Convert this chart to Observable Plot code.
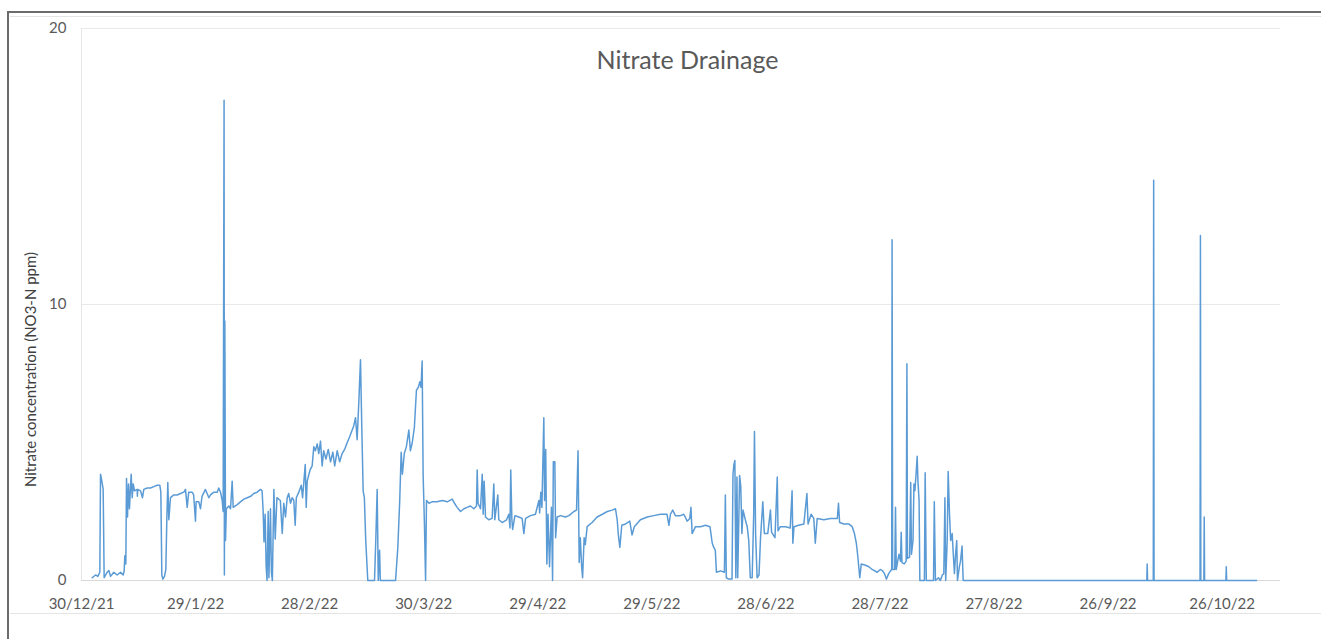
<!DOCTYPE html>
<html>
<head>
<meta charset="utf-8">
<script src="https://cdn.jsdelivr.net/npm/d3@7"></script>
<script src="https://cdn.jsdelivr.net/npm/@observablehq/plot@0.6"></script>
<style>
html, body { margin: 0; padding: 0; background: #fff; }
#wrap { position: relative; width: 1321px; height: 639px; overflow: hidden; font-family: Lato, "Open Sans", sans-serif; }
#frame { position: absolute; left: 7px; top: 11px; width: 1330px; height: 640px; border-top: 2px solid #6b6b6b; border-left: 2px solid #6b6b6b; box-sizing: border-box; }
#inner { position: absolute; left: 10px; top: 16px; width: 1320px; height: 598px; border-top: 1px solid #e4e4e4; border-bottom: 1px solid #e4e4e4; box-sizing: border-box; }
#chart { position: absolute; left: 0; top: 0; }
</style>
</head>
<body>
<div id="wrap">
  <div id="frame"></div>
  <div id="inner"></div>
  <div id="chart"></div>
</div>
<script>
// Readings: [days since 30/12/21, nitrate NO3-N ppm]
const janReadings = [[2.81,0.1],[3.68,0.2],[4.29,0.15],[4.82,0.3],[5.0,3.85],[5.35,3.6],[5.7,3.3],[5.96,0.1],[6.75,0.3],[7.19,0.36],[7.63,0.15],[8.5,0.3],[9.38,0.2],[10.26,0.3],[10.96,0.2],[11.22,0.35],[11.4,0.9],[11.66,0.6],[11.84,3.7],[12.1,2.3],[12.36,3.5],[12.62,2.6],[12.89,3.4],[13.07,3.85],[13.33,3.0],[13.6,3.5],[13.94,3.25],[14.64,3.3],[14.7,3.05],[14.8,3.3],[15.52,3.25],[16.04,3.0],[16.39,3.3],[17.27,3.35],[18.15,3.35],[19.03,3.4],[19.9,3.45],[20.6,3.45],[20.87,3.2],[21.13,0.2],[21.4,0.05],[21.83,0.15],[22.18,0.4],[22.44,2.2],[22.7,3.55],[22.97,2.2],[23.4,3.0],[24.28,3.1],[25.16,3.1],[26.04,3.15],[26.92,3.2],[27.35,3.3],[27.8,2.65],[28.2,3.2],[29.1,3.2],[29.5,3.1],[29.98,2.15],[30.15,2.85],[30.86,2.85],[31.3,2.6],[31.7,3.05],[32.6,3.3],[33.5,3.0],[33.93,3.1],[34.8,3.2],[35.7,3.2],[36.1,3.35],[36.56,3.2],[37.0,2.9],[37.26,2.5],[37.5,17.4],[37.58,0.2],[37.7,9.4],[37.88,1.45],[38.1,2.6],[38.75,2.7],[39.2,2.6],[39.63,3.6],[39.9,2.65],[40.95,2.75],[41.8,2.85],[42.7,2.95],[43.58,3.0],[44.5,3.05],[45.3,3.15],[46.2,3.2],[47.08,3.3],[47.5,3.25],[47.78,2.5],[48.0,1.4],[48.3,2.4],[48.57,0.5],[48.8,0.0],[49.1,2.5],[49.3,0.1],[49.7,2.6],[49.95,0.3],[50.2,0.0],[50.6,3.3],[50.95,1.5],[51.4,3.0],[52.3,2.9]];
const marReadings = [[52.8,1.7],[53.2,2.8],[53.65,2.3],[54.1,3.0],[54.5,3.15],[54.97,2.8],[55.4,3.0],[55.84,2.9],[56.2,2.0],[56.5,3.0],[57.16,3.2],[57.8,3.45],[58.15,3.0],[58.5,3.6],[58.85,4.2],[59.1,2.65],[59.36,3.6],[60.1,4.0],[60.67,4.15],[61.1,4.85],[61.5,4.7],[62.0,4.95],[62.4,4.6],[62.86,5.05],[63.3,4.15],[63.7,4.7],[64.3,4.4],[64.9,4.75],[65.5,4.3],[66.1,4.65],[66.6,4.15],[67.25,4.7],[67.9,4.3],[68.56,4.6],[69.2,4.75],[69.9,5.0],[70.5,5.2],[71.2,5.45],[71.6,5.6],[72.07,5.9],[72.5,5.1],[72.95,6.5],[73.38,8.0],[73.7,5.7],[74.08,3.25],[74.4,3.0],[74.76,1.45],[75.3,0],[77.07,0],[77.4,1.45],[77.77,3.3],[78.05,0],[78.4,1.1],[78.6,0],[82.6,0],[83.2,1.2],[83.7,2.9],[84.08,4.65],[84.4,3.85],[84.9,4.6],[85.45,4.85],[86.1,5.45],[86.5,4.7],[87.0,5.0],[87.55,5.55],[88.1,6.9],[88.6,7.0],[89.0,7.2],[89.3,7.0],[89.6,7.95],[89.85,3.85],[90.2,2.05],[90.5,0],[90.74,2.9],[91.4,2.8],[92.2,2.85],[93.5,2.85],[94.9,2.9],[96.2,2.85],[97.5,2.95],[98.1,2.8],[98.8,2.65],[99.7,2.5],[100.6,2.6],[101.4,2.65],[102.3,2.7],[103.2,2.6],[103.9,2.7],[104.07,4.0],[104.3,2.8]];
const mayReadings = [[104.95,2.6],[105.4,3.85],[105.65,2.4],[105.9,3.6],[106.26,2.3],[107.1,2.2],[108.0,2.25],[108.45,3.5],[108.7,2.2],[109.5,3.1],[109.75,2.2],[110.65,2.1],[111.8,2.2],[112.4,2.4],[112.7,1.9],[112.9,4.0],[113.2,2.2],[113.4,1.85],[114.0,2.35],[115.0,2.3],[115.9,2.25],[116.35,1.7],[116.8,2.25],[118.1,2.35],[119.4,2.4],[120.3,2.9],[120.5,2.45],[120.8,3.2],[121.1,2.65],[121.6,5.9],[121.8,2.9],[122.1,4.75],[122.4,0.6],[122.7,2.4],[123.1,0.5],[123.6,2.65],[123.9,0],[124.1,4.3],[124.5,4.3],[124.7,1.55],[125.1,2.3],[126.0,2.35],[127.3,2.3],[128.2,2.35],[129.5,2.5],[130.2,2.55],[130.6,4.7],[130.9,0.65],[131.2,1.55],[131.55,0.5],[131.8,0.1],[132.2,1.55],[132.5,1.3],[133.0,1.95],[134.3,2.1],[135.6,2.3],[137.0,2.4],[138.3,2.5],[139.6,2.55],[140.45,2.6],[140.9,2.2],[141.2,1.65],[141.6,1.2],[142.1,2.0],[143.1,2.05],[144.2,2.15],[144.8,1.65],[145.4,1.95],[147.0,2.2],[148.8,2.3],[150.5,2.35],[152.3,2.4],[154.0,2.4],[154.5,2.0],[154.9,2.4],[155.5,2.55],[156.2,2.35]];
const julReadings = [[157.5,2.35],[158.4,2.4],[158.8,2.3],[159.3,2.15],[160.0,2.25],[160.3,2.65],[160.6,1.7],[161.5,1.95],[162.8,1.95],[164.1,2.0],[165.3,1.95],[165.9,1.35],[166.3,1.2],[166.7,1.1],[167.0,0.3],[168.1,0.35],[169.1,0.3],[169.35,3.1],[169.6,0.1],[170.2,0.05],[171.1,0.05],[171.35,3.85],[171.6,4.2],[171.85,4.35],[172.1,0.1],[172.4,3.75],[172.6,0.1],[173.1,3.8],[173.4,3.4],[173.7,1.7],[174.0,2.55],[174.6,2.2],[175.1,1.95],[175.5,1.45],[175.9,0.1],[176.4,0.1],[176.8,2.4],[177.0,5.4],[177.3,1.7],[177.7,0.1],[178.2,0.2],[178.6,1.55],[179.2,2.85],[179.6,1.7],[180.5,1.7],[181.2,2.55],[181.5,1.75],[182.4,1.55],[183.0,3.75],[183.2,1.8],[183.8,1.95],[185.2,1.95],[186.4,1.9],[186.9,3.25],[187.1,1.35],[187.4,1.95],[188.6,2.0],[190.0,2.05],[190.8,3.15],[191.1,2.05],[191.9,2.4],[192.6,2.25],[193.0,1.35],[193.5,2.25],[195.25,2.2],[197.0,2.25],[198.8,2.25],[199.1,2.8],[199.4,2.1],[200.5,2.05],[201.8,2.05],[202.7,1.95],[203.3,1.7],[203.8,1.35],[204.2,0.85],[204.7,0.1],[205.1,0.6],[206.2,0.55],[207.1,0.5],[207.95,0.4],[209.3,0.3],[210.1,0.4]];
const augReadings = [[210.7,0.35],[211.2,0.25],[211.7,0.05],[212.3,0.25],[212.8,0.35],[213.1,0.4],[213.2,12.35],[213.35,0.4],[213.9,0.4],[214.1,2.65],[214.3,0.4],[215.0,0.95],[215.4,0.7],[215.6,1.75],[215.8,0.65],[216.4,0.6],[216.9,0.7],[217.1,7.85],[217.25,0.8],[217.8,0.85],[218.1,3.55],[218.3,0.95],[218.7,1.45],[218.95,3.5],[219.2,3.25],[219.5,3.85],[219.8,4.5],[220.0,3.6],[220.3,2.9],[220.5,0],[221.7,0],[221.9,3.9],[222.2,0],[224.1,0],[224.3,2.85],[224.6,0],[225.4,0.1],[225.9,0],[226.4,0.2],[226.8,0.25],[227.1,3.0],[227.3,0],[227.7,1.45],[227.95,3.95],[228.3,2.4],[228.6,1.45],[229.0,1.7],[229.3,0.95],[229.6,0.25],[229.9,0.95],[230.2,1.45],[230.4,0],[230.9,0.5],[231.2,0.7],[231.6,1.25],[231.9,0]];
const octReadings = [[280.2,0],[280.3,0.6],[280.4,0],[281.9,0],[282.0,14.5],[282.1,0],[294.2,0],[294.3,12.5],[294.4,0],[295.2,0],[295.3,2.3],[295.4,0],[301.0,0],[301.1,0.5],[301.2,0],[309.05,0]];

const xTickLabels = ["30/12/21","29/1/22","28/2/22","30/3/22","29/4/22","29/5/22","28/6/22","28/7/22","27/8/22","26/9/22","26/10/22"];
const yTicks = [0, 10, 20];
const xEndDay = 315.36;

const start = Date.UTC(2021, 11, 30);
const toDate = d => new Date(start + d * 864e5);
const parseTick = d3.utcParse("%d/%m/%y");
const tickDates = xTickLabels.map(parseTick);

const rows = [...janReadings, ...marReadings, ...mayReadings, ...julReadings, ...augReadings, ...octReadings]
  .map(([d, v]) => ({date: toDate(d), value: v}));

const chart = Plot.plot({
  width: 1321,
  height: 639,
  marginLeft: 81,
  marginRight: 41,
  marginTop: 28,
  marginBottom: 59,
  style: {fontFamily: "Lato, 'Open Sans', sans-serif", fontSize: "15px", color: "#595959", background: "transparent", overflow: "visible"},
  x: {type: "utc", domain: [toDate(0), toDate(xEndDay)], ticks: tickDates, tickFormat: d3.utcFormat("%-d/%-m/%y"), tickSize: 0, tickPadding: 18, label: null},
  y: {domain: [0, 20], ticks: yTicks, tickSize: 0, tickPadding: 15, label: null},
  marks: [
    Plot.gridY(yTicks, {stroke: "#e9e9e9", strokeOpacity: 1}),
    Plot.frame({anchor: "left", stroke: "#e6e6e6"}),
    Plot.ruleY([0], {stroke: "#d9d9d9"}),
    Plot.line(rows, {x: "date", y: "value", stroke: "#5B9BD5", strokeWidth: 1.5}),
    Plot.text(["Nitrate Drainage"], {frameAnchor: "top", lineAnchor: "middle", dy: 32, dx: 6.5, fontSize: 25, fill: "#595959"}),
    Plot.text(["Nitrate concentration (NO3-N ppm)"], {frameAnchor: "left", textAnchor: "middle", lineAnchor: "middle", rotate: -90, dx: -50, dy: 65, fontSize: 15, fill: "#404040"})
  ]
});
document.getElementById("chart").appendChild(chart);
</script>
</body>
</html>
